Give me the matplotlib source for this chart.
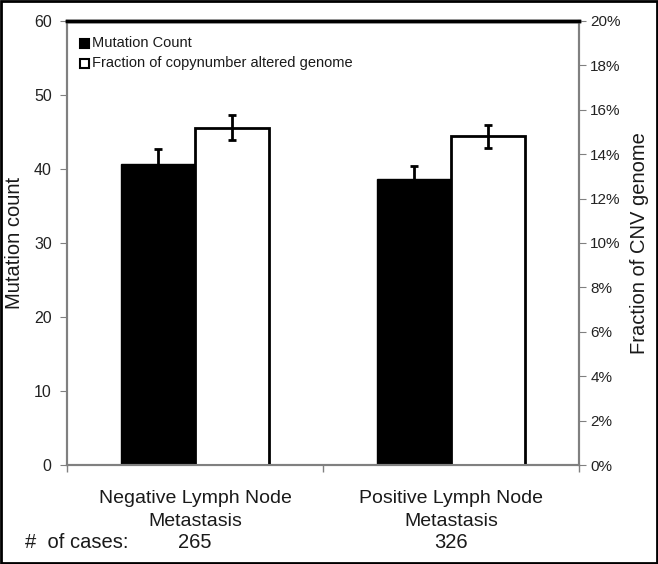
import matplotlib
matplotlib.use("Agg")
import matplotlib.pyplot as plt
from matplotlib.patches import Rectangle
from matplotlib.ticker import PercentFormatter
import numpy as np

plt.rcParams['font.family'] = ['Liberation Sans', 'DejaVu Sans']

categories = ["Negative Lymph Node\nMetastasis", "Positive Lymph Node\nMetastasis"]
cases = ["265", "326"]
mutation_count = [40.7, 38.6]
mutation_err = [2.0, 1.8]
cnv_fraction = [15.2, 14.8]
cnv_err = [0.58, 0.53]
left_ticks = [0, 10, 20, 30, 40, 50, 60]
right_ticks = [0, 2, 4, 6, 8, 10, 12, 14, 16, 18, 20]

fig = plt.figure(figsize=(6.58, 5.64), dpi=100)
ax = fig.add_axes([0.1018, 0.1755, 0.7782, 0.7873])
ax2 = ax.twinx()

x = np.arange(len(categories))
w = 0.29
gray = "#808080"

ax.bar(x - w / 2, mutation_count, width=w, color="black", edgecolor="black",
       linewidth=1, zorder=2)
ax.errorbar(x - w / 2, mutation_count, yerr=mutation_err, fmt="none",
            ecolor="black", elinewidth=2, capsize=3, capthick=2, zorder=3)
ax2.bar(x + w / 2, cnv_fraction, width=w, color="white", edgecolor="black",
        linewidth=2, zorder=2)
ax2.errorbar(x + w / 2, cnv_fraction, yerr=cnv_err, fmt="none",
             ecolor="black", elinewidth=2, capsize=3, capthick=2, zorder=3)

ax.set_xlim(-0.5, 1.5)
ax.set_ylim(0, 60)
ax2.set_ylim(0, 20)
ax.set_yticks(left_ticks)
ax2.set_yticks(right_ticks)
ax2.yaxis.set_major_formatter(PercentFormatter(decimals=0))

ax.set_xticks([-0.5, 0.5, 1.5])
ax.set_xticklabels([])
ax.set_xticks(x, minor=True)
ax.set_xticklabels(categories, minor=True, fontsize=14, color="#1a1a1a",
                   linespacing=1.45)
ax.tick_params(axis="x", which="minor", length=0, pad=18)
ax.tick_params(axis="x", which="major", length=5, color=gray, width=1)

for a in (ax, ax2):
    for s in a.spines.values():
        s.set_color(gray)
        s.set_linewidth(1.5)
    a.spines["top"].set_color("black")
    a.spines["top"].set_linewidth(2.5)

ax.tick_params(axis="y", length=5, color=gray, labelsize=11.5, labelcolor="#222222", pad=6)
ax2.tick_params(axis="y", length=5, color=gray, labelsize=11, labelcolor="#222222", pad=3)

ax.set_ylabel("Mutation count", fontsize=14.5, color="#1a1a1a")
ax.yaxis.set_label_coords(-0.084, 0.5)
ax2.set_ylabel("Fraction of CNV genome", fontsize=14.5, color="#1a1a1a")
ax2.yaxis.set_label_coords(1.099, 0.5)

# legend
leg_items = [("Mutation Count", "black"), ("Fraction of copynumber altered genome", "white")]
for i, (lab, fc) in enumerate(leg_items):
    yf = 1 - (43 + 20 * i) / 564
    fig.patches.append(Rectangle((80 / 658, yf - 4.5 / 564), 9 / 658, 9 / 564,
                                 transform=fig.transFigure, facecolor=fc,
                                 edgecolor="black", linewidth=1.5))
    fig.text(92 / 658, yf, lab, fontsize=10.5, va="center", ha="left", color="#1a1a1a")

# cases row
fig.text(25 / 658, 1 - 542 / 564, "#  of cases:", fontsize=14.5, va="center", ha="left",
         color="#1a1a1a")
for xi, c in zip(x, cases):
    xd = ax.transData.transform((xi, 0))[0]
    fig.text(xd / fig.bbox.width, 1 - 542 / 564, c, fontsize=14.5, va="center",
             ha="center", color="#1a1a1a")

# figure border
fig.patches.append(Rectangle((0.0015, 0.0018), 0.997, 0.9964, transform=fig.transFigure,
                             fill=False, edgecolor="black", linewidth=2))

fig.savefig("out.png", dpi=100)
